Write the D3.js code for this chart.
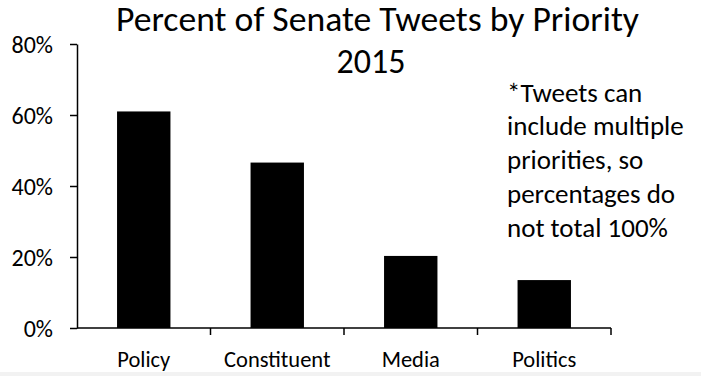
<!DOCTYPE html>
<html>
<head>
<meta charset="utf-8">
<script src="https://cdn.jsdelivr.net/npm/d3@7"></script>
<style>
  html, body { margin: 0; padding: 0; background: #fff; }
  svg { display: block; font-family: Carlito, Lato, "Open Sans", sans-serif; }
</style>
</head>
<body>
<svg id="chart" width="701" height="376"></svg>
<script>
// Share of senate tweets touching each priority, 2015
const categories = ["Policy", "Constituent", "Media", "Politics"];
const shares = [0.61, 0.466, 0.203, 0.135];
const yTicks = [0, 0.2, 0.4, 0.6, 0.8];
const titleLines = ["Percent of Senate Tweets by Priority", "2015"];
const noteLines = ["*Tweets can", "include multiple", "priorities, so", "percentages do", "not total 100%"];

const svg = d3.select("#chart");
const W = 701, H = 376;
const plot = { left: 77, right: 611, top: 44, bottom: 328 };

// faint strip along the bottom edge
svg.append("rect").attr("x", 0).attr("y", 372).attr("width", W).attr("height", H - 372).attr("fill", "#f2f2f2");

const x = d3.scaleBand()
  .domain(categories)
  .range([plot.left, plot.right])
  .paddingInner(0.6)
  .paddingOuter(0.3);

const y = d3.scaleLinear().domain([0, 0.8]).range([plot.bottom, plot.top]);

// bars
svg.append("g")
  .selectAll("rect")
  .data(categories)
  .join("rect")
  .attr("x", d => x(d))
  .attr("width", x.bandwidth())
  .attr("y", (d, i) => y(shares[i]))
  .attr("height", (d, i) => y(0) - y(shares[i]))
  .attr("fill", "#000");

// y axis
const yAxis = svg.append("g")
  .attr("transform", `translate(${plot.left},0)`)
  .call(d3.axisLeft(y).tickValues(yTicks).tickFormat(d3.format(".0%")).tickSize(7).tickSizeOuter(0));
yAxis.select(".domain").attr("stroke", "#000").attr("stroke-width", 1.5);
yAxis.selectAll(".tick line").attr("stroke", "#000").attr("stroke-width", 1.5);
yAxis.selectAll(".tick text")
  .attr("x", -24)
  .attr("dy", "0.35em")
  .attr("font-size", 24)
  .attr("fill", "#000")
  .style("font-family", "Carlito, Lato, 'Open Sans', sans-serif");

// x axis: ticks at band boundaries
const boundaries = categories.map(c => x(c) + x.bandwidth() + x.step() * x.paddingOuter());
const xAxisG = svg.append("g");
xAxisG.append("line")
  .attr("x1", plot.left).attr("x2", plot.right)
  .attr("y1", y(0)).attr("y2", y(0))
  .attr("stroke", "#000").attr("stroke-width", 1.5);
xAxisG.selectAll("line.tick")
  .data(boundaries)
  .join("line")
  .attr("class", "tick")
  .attr("x1", d => d).attr("x2", d => d)
  .attr("y1", y(0)).attr("y2", y(0) + 7)
  .attr("stroke", "#000").attr("stroke-width", 1.5);
xAxisG.selectAll("text")
  .data(categories)
  .join("text")
  .attr("x", d => x(d) + x.bandwidth() / 2)
  .attr("y", 367)
  .attr("text-anchor", "middle")
  .attr("font-size", 22.5)
  .attr("fill", "#000")
  .text(d => d);

// title, two lines
svg.append("text")
  .attr("x", 116).attr("y", 31)
  .attr("font-size", 34)
  .attr("textLength", 523)
  .attr("lengthAdjust", "spacingAndGlyphs")
  .attr("fill", "#000")
  .text(titleLines[0]);
svg.append("text")
  .attr("x", 371).attr("y", 73)
  .attr("text-anchor", "middle")
  .attr("font-size", 34)
  .attr("fill", "#000")
  .text(titleLines[1]);

// side note
svg.append("g")
  .selectAll("text")
  .data(noteLines)
  .join("text")
  .attr("x", 507)
  .attr("y", (d, i) => 101.5 + i * 33.9)
  .attr("font-size", 27)
  .attr("fill", "#000")
  .text(d => d);
</script>
</body>
</html>
